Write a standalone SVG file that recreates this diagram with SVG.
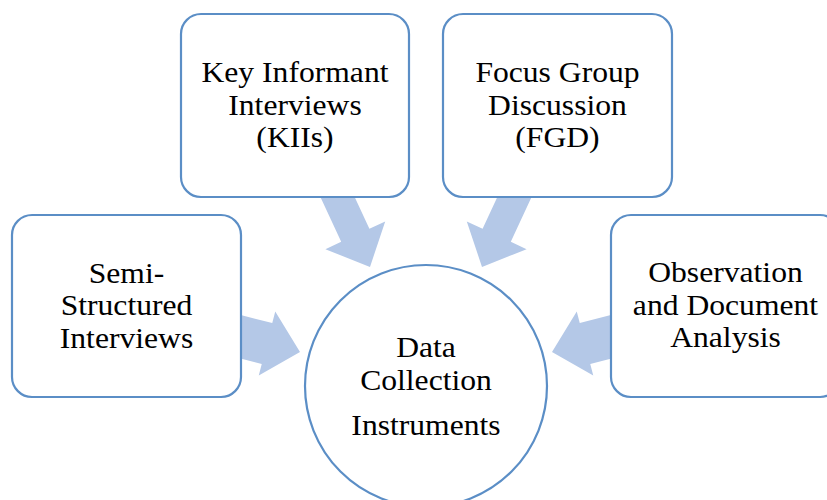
<svg xmlns="http://www.w3.org/2000/svg" width="827" height="500" viewBox="0 0 827 500">
<style>
.box{fill:#ffffff;stroke:#5b8ec6;stroke-width:2.2}
.arr{fill:#b4c8e7}
.t{font-size:28.5px;fill:#000;text-anchor:middle}
</style>
<rect width="827" height="500" fill="#ffffff"/>
<g id="connectors">
<polygon class="arr" points="370,267 385.2,221.4 369.4,228.8 344.2,174.4 316,187.4 341.2,241.8 325.4,249.2"/>
<polygon class="arr" points="482,267 466.8,221.4 482.6,228.8 507.8,174.4 536,187.4 510.8,241.8 526.6,249.2"/>
<polygon class="arr" points="300,352 275.25,311.5 272.25,323.1 214,308.1 203.6,348.9 261.75,363.9 258.75,375.5"/>
<polygon class="arr" points="552,352 576.75,311.5 579.75,323.1 638,308.1 648.4,348.9 590.25,363.9 593.25,375.5"/>
</g>
<g id="node-kii">
<rect class="box" x="181" y="14" width="228" height="183" rx="20"/>
<text class="t" font-family="Liberation Serif, DejaVu Serif, serif" transform="translate(295,0) scale(1.11,1)"><tspan x="0" y="82">Key Informant</tspan><tspan x="0" y="115">Interviews</tspan><tspan x="0" y="147">(KIIs)</tspan></text>
</g>
<g id="node-fgd">
<rect class="box" x="443" y="14" width="229" height="183" rx="20"/>
<text class="t" font-family="Liberation Serif, DejaVu Serif, serif" transform="translate(557.5,0) scale(1.11,1)"><tspan x="0" y="82">Focus Group</tspan><tspan x="0" y="115">Discussion</tspan><tspan x="0" y="147">(FGD)</tspan></text>
</g>
<g id="node-semi">
<rect class="box" x="12" y="215" width="229" height="182" rx="20"/>
<text class="t" font-family="Liberation Serif, DejaVu Serif, serif" transform="translate(126.5,0) scale(1.11,1)"><tspan x="0" y="283">Semi-</tspan><tspan x="0" y="315">Structured</tspan><tspan x="0" y="348">Interviews</tspan></text>
</g>
<g id="node-obs">
<rect class="box" x="611" y="215" width="229" height="182" rx="20"/>
<text class="t" font-family="Liberation Serif, DejaVu Serif, serif" transform="translate(725.5,0) scale(1.11,1)"><tspan x="0" y="282">Observation</tspan><tspan x="0" y="315">and Document</tspan><tspan x="0" y="347">Analysis</tspan></text>
</g>
<g id="node-center">
<circle class="box" cx="426" cy="386" r="121"/>
<text class="t" font-family="Liberation Serif, DejaVu Serif, serif" transform="translate(426,0) scale(1.11,1)"><tspan x="0" y="357">Data</tspan><tspan x="0" y="390">Collection</tspan><tspan x="0" y="435">Instruments</tspan></text>
</g>
</svg>
